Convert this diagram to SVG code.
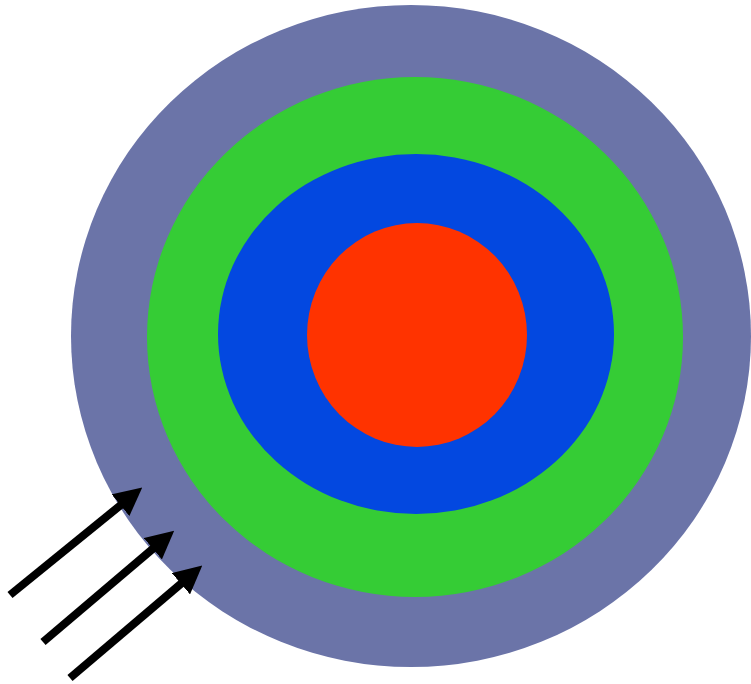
<svg xmlns="http://www.w3.org/2000/svg" width="751" height="684" viewBox="0 0 751 684">
  <style>
    .arrow { stroke: #000; stroke-width: 8; fill: none; marker-end: url(#head); }
  </style>
  <defs>
    <marker id="head" markerUnits="userSpaceOnUse" markerWidth="28" markerHeight="28" viewBox="0 0 28 28" refX="1" refY="14" orient="auto">
      <path d="M0,0 L28,14 L0,28 z" fill="#000"/>
    </marker>
  </defs>
  <rect width="751" height="684" fill="#fff"/>
  <g id="target">
    <ellipse id="ring-outer" cx="411" cy="336" rx="340" ry="331" fill="#6b74a8"/>
    <ellipse id="ring-green" cx="415" cy="337" rx="268" ry="260" fill="#35cc35"/>
    <ellipse id="ring-blue" cx="416" cy="334" rx="198" ry="180" fill="#0348e0"/>
    <ellipse id="ring-red" cx="417" cy="335" rx="110" ry="112" fill="#ff3300"/>
  </g>
  <g id="connectors">
    <line class="arrow" x1="10" y1="595" x2="121.3" y2="504.6"/>
    <line class="arrow" x1="43" y1="642" x2="153.6" y2="548.1"/>
    <line class="arrow" x1="70" y1="678" x2="181.7" y2="583.1"/>
  </g>
</svg>
